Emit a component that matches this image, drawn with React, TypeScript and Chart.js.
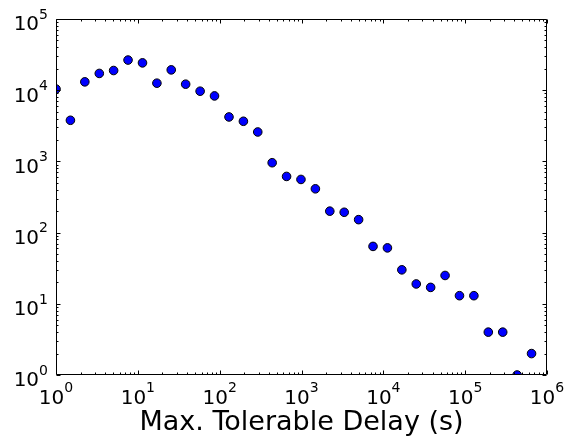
import React, { useEffect, useRef } from 'react';
import { Chart, registerables } from 'chart.js';

Chart.register(...registerables);

// Max. tolerable delay (s) for each bin
const delaySeconds = [
  1, 1.5, 2.25, 3.38, 5.06, 7.59, 11.4, 17.1, 25.6, 38.4, 57.7, 86.5,
  130, 195, 292, 438, 657, 985, 1478, 2217, 3325, 4988, 7482, 11223,
  16834, 25251, 37877, 56815, 85223, 127834, 191751, 287627, 431440, 647160,
];
// Count in each bin
const counts = [
  10400, 3780, 13100, 17200, 18900, 26500, 24200, 12550, 19300, 12150, 9680, 8310,
  4210, 3660, 2590, 958, 615, 558, 412, 200, 193, 152, 64, 61,
  30, 19, 17, 25, 13, 13, 4, 4, 1, 2,
];
const xTickExponents = [0, 1, 2, 3, 4, 5, 6];
const yTickExponents = [0, 1, 2, 3, 4, 5];
const xAxisTitle = 'Max. Tolerable Delay (s)';

const FONT = '"DejaVu Sans", sans-serif';

function drawPow(ctx: CanvasRenderingContext2D, exp: number, x: number, baseline: number, align: 'center' | 'right') {
  ctx.font = `20px ${FONT}`;
  const wb = ctx.measureText('10').width;
  ctx.font = `14px ${FONT}`;
  const we = ctx.measureText(String(exp)).width;
  const total = wb + we;
  const start = align === 'center' ? x - total / 2 : x - total;
  ctx.textAlign = 'left';
  ctx.textBaseline = 'alphabetic';
  ctx.font = `20px ${FONT}`;
  ctx.fillText('10', start, baseline);
  ctx.font = `14px ${FONT}`;
  ctx.fillText(String(exp), start + wb, baseline - 11.5);
}

const mplPlugin = {
  id: 'mplFrame',
  afterDatasetsDraw(chart: any) {
    const { ctx, chartArea: a, scales } = chart;
    const x = scales.x;
    const y = scales.y;
    ctx.save();
    ctx.strokeStyle = '#000';
    ctx.lineWidth = 1;
    const L = Math.round(a.left) + 0.5;
    const R = Math.round(a.right) - 0.5;
    const T = Math.round(a.top) + 0.5;
    const B = Math.round(a.bottom) - 0.5;
    ctx.beginPath();
    ctx.rect(L, T, R - L, B - T);
    ctx.stroke();
    ctx.beginPath();
    const xmax = xTickExponents[xTickExponents.length - 1];
    for (const e of xTickExponents) {
      for (let m = 1; m <= 9; m++) {
        if (e === xmax && m > 1) break;
        const v = m * Math.pow(10, e);
        const px = Math.round(x.getPixelForValue(v)) + 0.5;
        const len = m === 1 ? 4 : 2;
        ctx.moveTo(px, B);
        ctx.lineTo(px, B - len);
        ctx.moveTo(px, T);
        ctx.lineTo(px, T + len);
      }
    }
    const ymax = yTickExponents[yTickExponents.length - 1];
    for (const e of yTickExponents) {
      for (let m = 1; m <= 9; m++) {
        if (e === ymax && m > 1) break;
        const v = m * Math.pow(10, e);
        const py = Math.round(y.getPixelForValue(v)) + 0.5;
        const len = m === 1 ? 4 : 2;
        ctx.moveTo(L, py);
        ctx.lineTo(L + len, py);
        ctx.moveTo(R, py);
        ctx.lineTo(R - len, py);
      }
    }
    ctx.stroke();
    ctx.restore();
  },
  afterDraw(chart: any) {
    const { ctx, chartArea: a, scales } = chart;
    const x = scales.x;
    const y = scales.y;
    ctx.save();
    ctx.fillStyle = '#000';
    for (const e of xTickExponents) {
      const px = x.getPixelForValue(Math.pow(10, e));
      drawPow(ctx, e, px, a.bottom + 28.5, 'center');
    }
    for (const e of yTickExponents) {
      const py = y.getPixelForValue(Math.pow(10, e));
      drawPow(ctx, e, a.left - 8, py + 11.3, 'right');
    }
    ctx.font = `27px ${FONT}`;
    ctx.textAlign = 'center';
    ctx.textBaseline = 'alphabetic';
    ctx.fillText(xAxisTitle, (a.left + a.right) / 2, a.bottom + 55);
    ctx.restore();
  },
};

export default function App() {
  const ref = useRef<HTMLCanvasElement>(null);
  useEffect(() => {
    document.body.style.margin = '0';
    const canvas = ref.current;
    if (!canvas) return;
    const points = delaySeconds.map((d, i) => ({ x: d, y: counts[i] }));
    const chart = new Chart(canvas, {
      type: 'scatter',
      data: {
        datasets: [
          {
            data: points,
            backgroundColor: '#0000ff',
            borderColor: '#000000',
            borderWidth: 1,
            pointRadius: 4.3,
            pointHoverRadius: 4.3,
            clip: 0,
          } as any,
        ],
      },
      options: {
        responsive: false,
        animation: false,
        devicePixelRatio: 1,
        layout: { padding: { left: 56, right: 17, top: 19, bottom: 65 } },
        plugins: { legend: { display: false }, tooltip: { enabled: false }, title: { display: false } },
        scales: {
          x: { type: 'logarithmic', min: 1, max: 1e6, display: false },
          y: { type: 'logarithmic', min: 1, max: 1e5, display: false },
        },
        events: [],
      },
      plugins: [mplPlugin],
    });
    return () => chart.destroy();
  }, []);
  return (
    <div style={{ width: 564, height: 440, background: '#fff' }}>
      <canvas ref={ref} width={564} height={440} style={{ display: 'block' }} />
    </div>
  );
}
